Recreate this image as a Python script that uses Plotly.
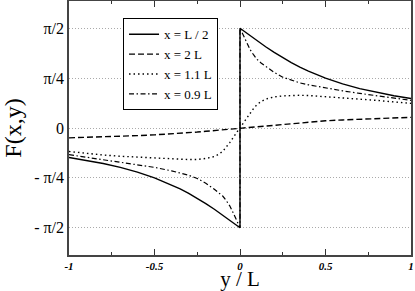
import plotly.graph_objects as go
import math

# y / L sample positions (shared by all curves; 0 appears twice for the jump)
Y_L = [-1.0, -0.9, -0.8, -0.7, -0.6, -0.5, -0.4, -0.35, -0.3, -0.25, -0.2, -0.15, -0.125,
       -0.1, -0.08, -0.06, -0.04, -0.02, 0.0, 0.0, 0.02, 0.04, 0.06, 0.08, 0.1, 0.125,
       0.15, 0.2, 0.25, 0.3, 0.35, 0.4, 0.5, 0.6, 0.7, 0.8, 0.9, 1.0]

F_HALF = [-0.464, -0.507, -0.559, -0.620, -0.695, -0.785, -0.896, -0.960, -1.030, -1.107,
          -1.190, -1.279, -1.326, -1.373, -1.412, -1.451, -1.491, -1.531, -1.571,
          1.571, 1.531, 1.491, 1.451, 1.412, 1.373, 1.326, 1.279, 1.190, 1.107, 1.030,
          0.960, 0.896, 0.785, 0.695, 0.620, 0.559, 0.507, 0.464]

F_TWO = [-0.155, -0.148, -0.140, -0.130, -0.120, -0.108, -0.095, -0.086, -0.076, -0.064,
         -0.052, -0.040, -0.034, -0.027, -0.022, -0.017, -0.012, -0.006, 0.0,
         0.0, 0.006, 0.012, 0.017, 0.022, 0.028, 0.035, 0.041, 0.053, 0.065, 0.077,
         0.088, 0.097, 0.113, 0.127, 0.139, 0.150, 0.160, 0.168]

F_ONE_ONE = [-0.370, -0.400, -0.425, -0.445, -0.460, -0.475, -0.490, -0.495, -0.497, -0.495,
             -0.480, -0.450, -0.415, -0.365, -0.305, -0.230, -0.150, -0.070, 0.0,
             0.0, 0.070, 0.150, 0.230, 0.310, 0.370, 0.420, 0.455, 0.490, 0.505, 0.513,
             0.515, 0.512, 0.495, 0.475, 0.455, 0.435, 0.410, 0.388]

F_ZERO_NINE = [-0.420, -0.460, -0.495, -0.535, -0.575, -0.620, -0.675, -0.705, -0.745, -0.795,
               -0.870, -0.965, -1.015, -1.075, -1.145, -1.225, -1.335, -1.445, -1.571,
               1.571, 1.450, 1.340, 1.230, 1.150, 1.080, 1.020, 0.970, 0.875, 0.800, 0.750,
               0.710, 0.680, 0.630, 0.585, 0.545, 0.505, 0.470, 0.435]

NAMES = ["x = L / 2", "x = 2 L", "x = 1.1 L", "x = 0.9 L"]

Y_TICKVALS = [-math.pi / 2, -math.pi / 4, 0, math.pi / 4, math.pi / 2]
Y_TICKTEXT = ["- π/2", "- π/4", "0", "π/4", "π/2"]
X_TICKVALS = [-1, -0.5, 0, 0.5, 1]
X_TICKTEXT = ["-1", "-0.5", "0", "0.5", "1"]

SERIF = "Liberation Serif, Times New Roman, serif"

fig = go.Figure()
styles = [
    dict(dash="solid", width=1.4),
    dict(dash="6px,3px", width=1.4),
    dict(dash="1.5px,3px", width=1.4),
    dict(dash="5px,2.5px,1.5px,2.5px", width=1.2),
]
for name, vals, st in zip(NAMES, [F_HALF, F_TWO, F_ONE_ONE, F_ZERO_NINE], styles):
    fig.add_trace(go.Scatter(x=Y_L, y=vals, mode="lines", name=name,
                             line=dict(color="black", **st)))

fig.update_layout(
    width=415, height=291,
    margin=dict(l=69, r=4, t=1, b=36, autoexpand=False),
    plot_bgcolor="white", paper_bgcolor="white",
    font=dict(family=SERIF, color="black"),
    showlegend=True,
    legend=dict(x=0.158, y=0.932, xanchor="left", yanchor="top",
                bgcolor="white", bordercolor="black", borderwidth=1,
                font=dict(family=SERIF, size=13, color="black"),
                tracegroupgap=0, itemwidth=30),
)
fig.update_xaxes(
    range=[-1, 1], tickvals=X_TICKVALS, ticktext=X_TICKTEXT, automargin=True,
    ticks="inside", ticklen=6, tickwidth=1, tickcolor="#333",
    minor=dict(dtick=0.25, ticks="inside", ticklen=3, tickcolor="#333", showgrid=False),
    showline=True, linecolor="#444", linewidth=1.5, mirror="ticks",
    showgrid=False, zeroline=False,
    tickfont=dict(family=SERIF, size=11, weight="bold", style="italic", color="black"),
    title=dict(text="y / L", font=dict(family=SERIF, size=21, color="black"), standoff=3),
)
fig.update_yaxes(
    range=[-2, 2], tickvals=Y_TICKVALS, ticktext=Y_TICKTEXT, ticks="", automargin=False,
    showline=True, linecolor="#444", linewidth=1.5, mirror=True,
    showgrid=True, gridcolor="#aaa", griddash="1px,2px", gridwidth=1, zeroline=False,
    tickfont=dict(family=SERIF, size=16, color="black"),
    title=dict(text="F(x,y)", font=dict(family=SERIF, size=24, color="black"), standoff=6),
)

fig.write_html("out.html", config={"displayModeBar": False},
               post_script="document.body.style.margin='0';")
